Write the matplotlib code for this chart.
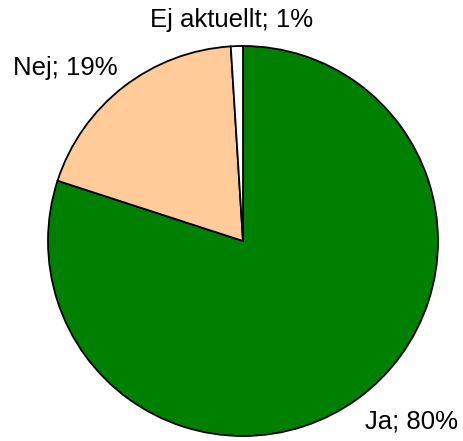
import matplotlib
matplotlib.use("Agg")
import matplotlib.pyplot as plt

categories = ["Ja", "Nej", "Ej aktuellt"]
values = [80, 19, 1]
colors = ["#008000", "#FFCC99", "#FFFFFF"]
label_pos = [(412, 19), (65, 373), (232, 421)]

W, H = 464, 441
fig = plt.figure(figsize=(W / 100, H / 100), dpi=100)
ax = fig.add_axes([0, 0, 1, 1])
ax.set_xlim(0, W)
ax.set_ylim(0, H)
ax.set_aspect("equal")
ax.axis("off")

ax.pie(values, colors=colors, startangle=90, counterclock=False,
       center=(243, 200), radius=195, frame=True,
       wedgeprops=dict(edgecolor="black", linewidth=1.3))
ax.set_xlim(0, W)
ax.set_ylim(0, H)
ax.axis("off")

for cat, val, (x, y) in zip(categories, values, label_pos):
    ax.text(x, y, f"{cat}; {val}%", ha="center", va="center",
            fontsize=18.5, family=["Liberation Sans", "DejaVu Sans"])

fig.savefig("out.png", dpi=100)
